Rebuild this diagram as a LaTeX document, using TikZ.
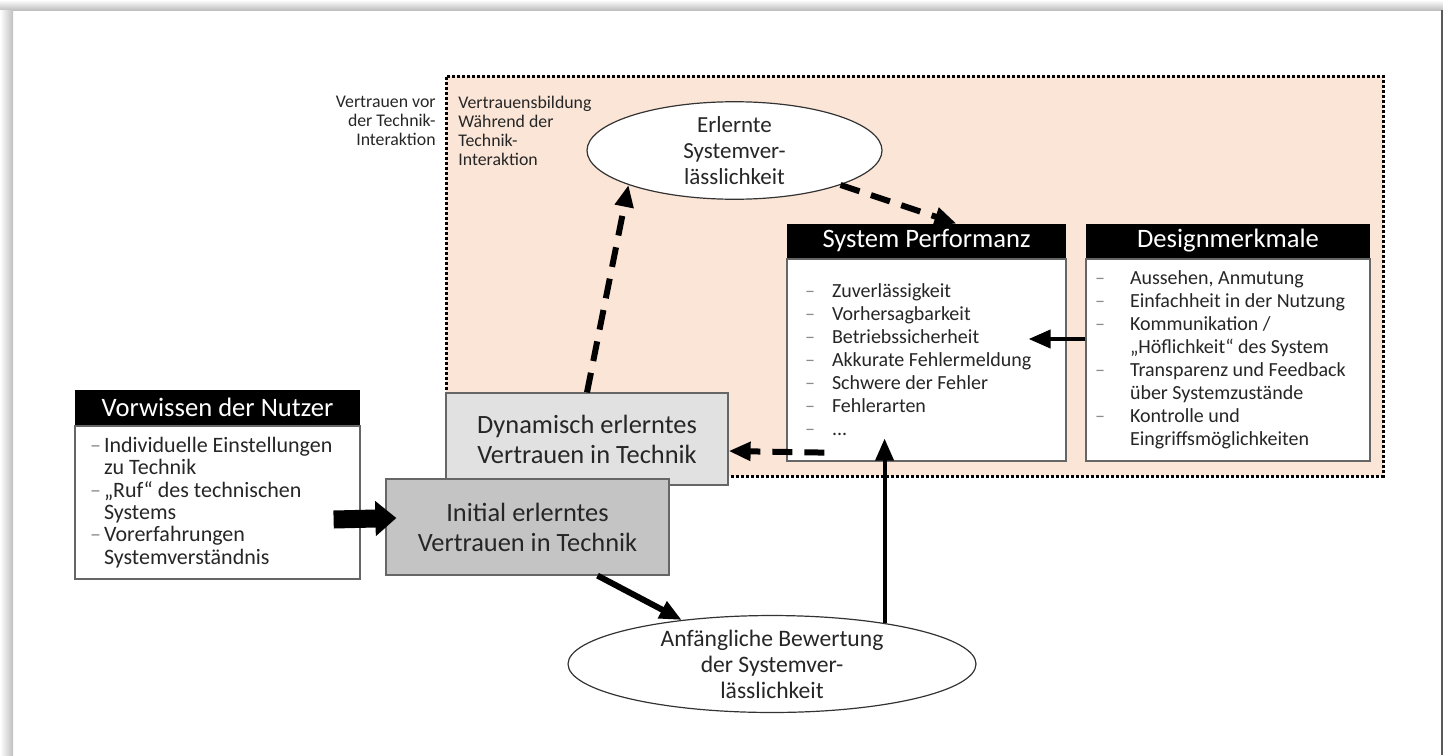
\documentclass[tikz,border=0pt]{standalone}
\usepackage{fontspec}
\usepackage{xcolor}
\setmainfont{Carlito}
\usetikzlibrary{shapes.geometric,arrows.meta}

\definecolor{peach}{HTML}{FBE5D6}
\definecolor{dynfill}{HTML}{E1E1E1}
\definecolor{initfill}{HTML}{C4C4C4}

% list entries with a grey dash in front
\newlength{\itmw}
\newcommand{\itm}{\makebox[\itmw][l]{\textcolor{black!45}{--}}}
\newcommand{\cnt}{\hspace*{\itmw}}

\begin{document}
\begin{tikzpicture}[x=0.5pt,y=-0.5pt,
    every node/.style={text=black!85},
    head/.style={fill=black,text=white,font=\fontsize{13.3}{15}\selectfont,minimum height=17pt,inner sep=0pt},
    listbox/.style={draw=black!60,fill=white,line width=0.6pt,align=flush left,font=\fontsize{10}{11.5}\selectfont,inner ysep=0pt,anchor=north},
    trustbox/.style={draw=black!60,line width=0.6pt,align=center,font=\fontsize{13.2}{15}\selectfont},
    oval/.style={ellipse,draw=black!80,fill=white,line width=0.6pt,align=center,inner sep=0pt,font=\fontsize{11.5}{13.2}\selectfont},
    note/.style={inner sep=0pt,font=\fontsize{8.9}{9.4}\selectfont},
    arr/.style={line width=2pt,-{Triangle[width=9pt,length=11pt]}},
    dasharr/.style={arr,line width=3pt,dash pattern=on 10pt off 6pt},
    fatarr/.style={line width=9pt,-{Triangle[width=17pt,length=10.5pt]}}]

    \useasboundingbox (0,0) rectangle (1443,755);
    % page shadow
    \shade[top color=white,bottom color=black!25] (0,0) rectangle (1443,10);
    \shade[left color=white,right color=black!25] (0,10) rectangle (13,755);
    \draw[black!65,line width=1pt] (1442,10) -- (1442,755);

    % phase during the interaction
    \node[draw,fill=peach,line width=1.5pt,dash pattern=on 1.5pt off 1pt,minimum width=468.5pt,minimum height=200pt,inner sep=0pt] (phase) at (914.5,276) {};
    \node[note,anchor=north east,align=right] (before) at (436,96) {Vertrauen vor\\der Technik-\\Interaktion};
    \node[note,anchor=north west,align=left] (during) at (458,96) {Vertrauensbildung\\Während der\\Technik-\\Interaktion};

    \node[oval,minimum width=147.5pt,minimum height=47.5pt] (erl) at (734.5,150.5) {Erlernte\\Systemver-\\lässlichkeit};

    \node[head,minimum width=139.5pt] (sp-head) at (926.5,241) {System Performanz};
    \node[listbox,text width=121.5pt,inner xsep=9pt,minimum height=101pt] (sp) at (sp-head.south) {\setlength{\itmw}{13.5pt}%
        \itm Zuverlässigkeit\\
        \itm Vorhersagbarkeit\\
        \itm Betriebssicherheit\\
        \itm Akkurate Fehlermeldung\\
        \itm Schwere der Fehler\\
        \itm Fehlerarten\\
        \itm ...};

    \node[head,minimum width=142pt] (dm-head) at (1228,241) {Designmerkmale};
    \node[listbox,text width=133pt,inner xsep=4.5pt,minimum height=101pt] (dm) at (dm-head.south) {\setlength{\itmw}{17.5pt}%
        \itm Aussehen, Anmutung\\
        \itm Einfachheit in der Nutzung\\
        \itm Kommunikation /\\
        \cnt „Höflichkeit“ des System\\
        \itm Transparenz und Feedback\\
        \cnt über Systemzustände\\
        \itm Kontrolle und\\
        \cnt Eingriffsmöglichkeiten};

    \node[head,minimum width=142.5pt,minimum height=17.5pt] (vw-head) at (217.5,407.5) {Vorwissen der Nutzer};
    \node[listbox,font=\fontsize{11}{11.2}\selectfont,text width=127.5pt,inner xsep=7.5pt,minimum height=76.5pt] (vw) at (vw-head.south) {\setlength{\itmw}{7pt}%
        \itm Individuelle Einstellungen\\
        \cnt zu Technik\\
        \itm „Ruf“ des technischen\\
        \cnt Systems\\
        \itm Vorerfahrungen\\
        \cnt Systemverständnis};

    \node[trustbox,fill=dynfill,minimum width=141pt,minimum height=46pt] (dyn) at (587,439) {Dynamisch erlerntes\\Vertrauen in Technik};
    \node[trustbox,fill=initfill,minimum width=141.5pt,minimum height=48pt] (init) at (527.5,527) {Initial erlerntes\\Vertrauen in Technik};

    \node[oval,font=\fontsize{11.8}{13}\selectfont,minimum width=204pt,minimum height=46pt] (bew) at (772,664) {Anfängliche Bewertung\\der Systemver-\\lässlichkeit};

    % connections
    \draw[fatarr] ([shift={(-13.5pt,-8.5pt)}]vw.east) -- ([shift={(5.5pt,4.5pt)}]init.west);
    \draw[arr,line width=3pt] ([xshift=35pt]init.south) -- (bew.154);
    \draw[arr,shorten >=-11.5pt] (bew.20) -- (bew.20 |- sp.south);
    \draw[arr] ([yshift=10.5pt]dm.west) -- ([shift={(-19pt,10.5pt)}]sp.east);
    \draw[dasharr] ([shift={(19pt,4.5pt)}]sp.south west) -- ([yshift=-6pt]dyn.east);
    \draw[dasharr] (dyn.north) -- (erl.198);
    \draw[dasharr] (erl.-18) -- ([xshift=15pt]sp-head.north);
\end{tikzpicture}
\end{document}
